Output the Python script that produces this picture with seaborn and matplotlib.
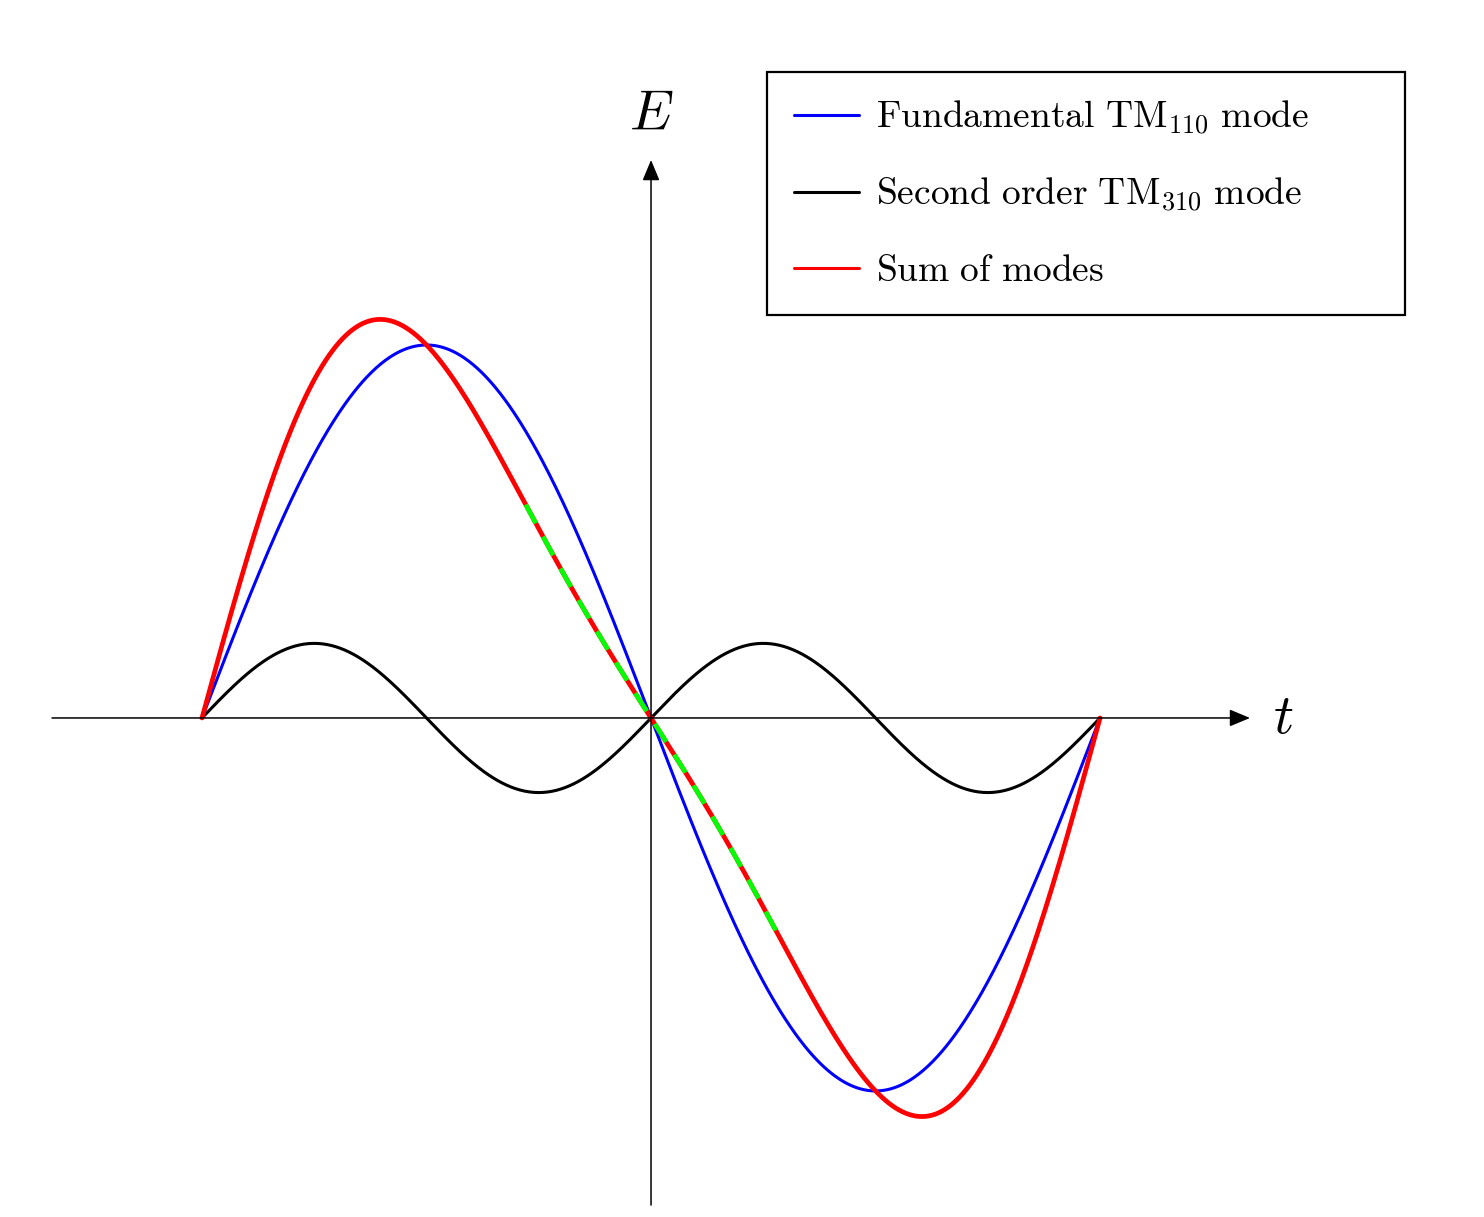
import numpy as np
import matplotlib.pyplot as plt
import seaborn as sns
from matplotlib.lines import Line2D

# Mode amplitudes (fundamental peak = 1)
fund_amp = 1.0
second_amp = 0.2
fund_order = 1
second_order = 2

# time span of the curves and the highlighted (near-linear) part of the sum
t_start, t_end = -np.pi, np.pi
lin_start, lin_end = -0.88, 0.88

labels = [r'$\mathrm{Fundamental\ TM}_{110}\mathrm{\ mode}$',
          r'$\mathrm{Second\ order\ TM}_{310}\mathrm{\ mode}$',
          r'$\mathrm{Sum\ of\ modes}$']
colors = ['#0000ff', 'black', '#ff0000']

t = np.linspace(t_start, t_end, 800)
fund = -fund_amp * np.sin(fund_order * t)
second = second_amp * np.sin(second_order * t)
total = fund + second
lin = (t >= lin_start) & (t <= lin_end)

sns.set_style('white')
plt.rcParams['mathtext.fontset'] = 'cm'
plt.rcParams['text.color'] = 'black'

fig = plt.figure(figsize=(14.84, 12.17), dpi=100)
ax = fig.add_axes([0, 0, 1, 1])
ax.axis('off')
ax.set_xlim(-4.555, 5.828)
ax.set_ylim(-1.338, 1.925)

# coordinate axes with arrow heads
arrow = dict(arrowstyle='-|>,head_length=0.6,head_width=0.25', color='black',
             lw=1.1, mutation_scale=21, shrinkA=0, shrinkB=0)
ax.annotate('', xy=(4.191, 0), xytext=(-4.191, 0), arrowprops=arrow)
ax.annotate('', xy=(0, 1.496), xytext=(0, -1.306), arrowprops=arrow)
ax.text(0, 1.617, r'$E$', fontsize=40, ha='center', va='center', color='black')
ax.text(4.42, 0, r'$t$', fontsize=40, ha='center', va='center', color='black')

sns.lineplot(x=t, y=second, color=colors[1], lw=2.2, ax=ax)
sns.lineplot(x=t, y=fund, color=colors[0], lw=2.2, ax=ax)
sns.lineplot(x=t, y=total, color=colors[2], lw=3.4, ax=ax)
sns.lineplot(x=t[lin], y=total[lin], color='#00ff00', lw=3.4,
             linestyle=(0, (4.5, 3.2)), ax=ax)

handles = [Line2D([], [], color=c, lw=2.2) for c in colors]
leg = ax.legend(handles, labels, loc='upper left',
                bbox_to_anchor=(767 / 1484, 1 - 316 / 1217, 638 / 1484, 244 / 1217),
                bbox_transform=fig.transFigure, mode='expand', borderaxespad=0,
                fancybox=False, framealpha=1, edgecolor='black', fontsize=27,
                labelcolor='black', handlelength=1.75, handletextpad=0.45,
                labelspacing=1.03, borderpad=0.71)
leg.get_frame().set_linewidth(1.6)

fig.savefig('out.png', dpi=100)
